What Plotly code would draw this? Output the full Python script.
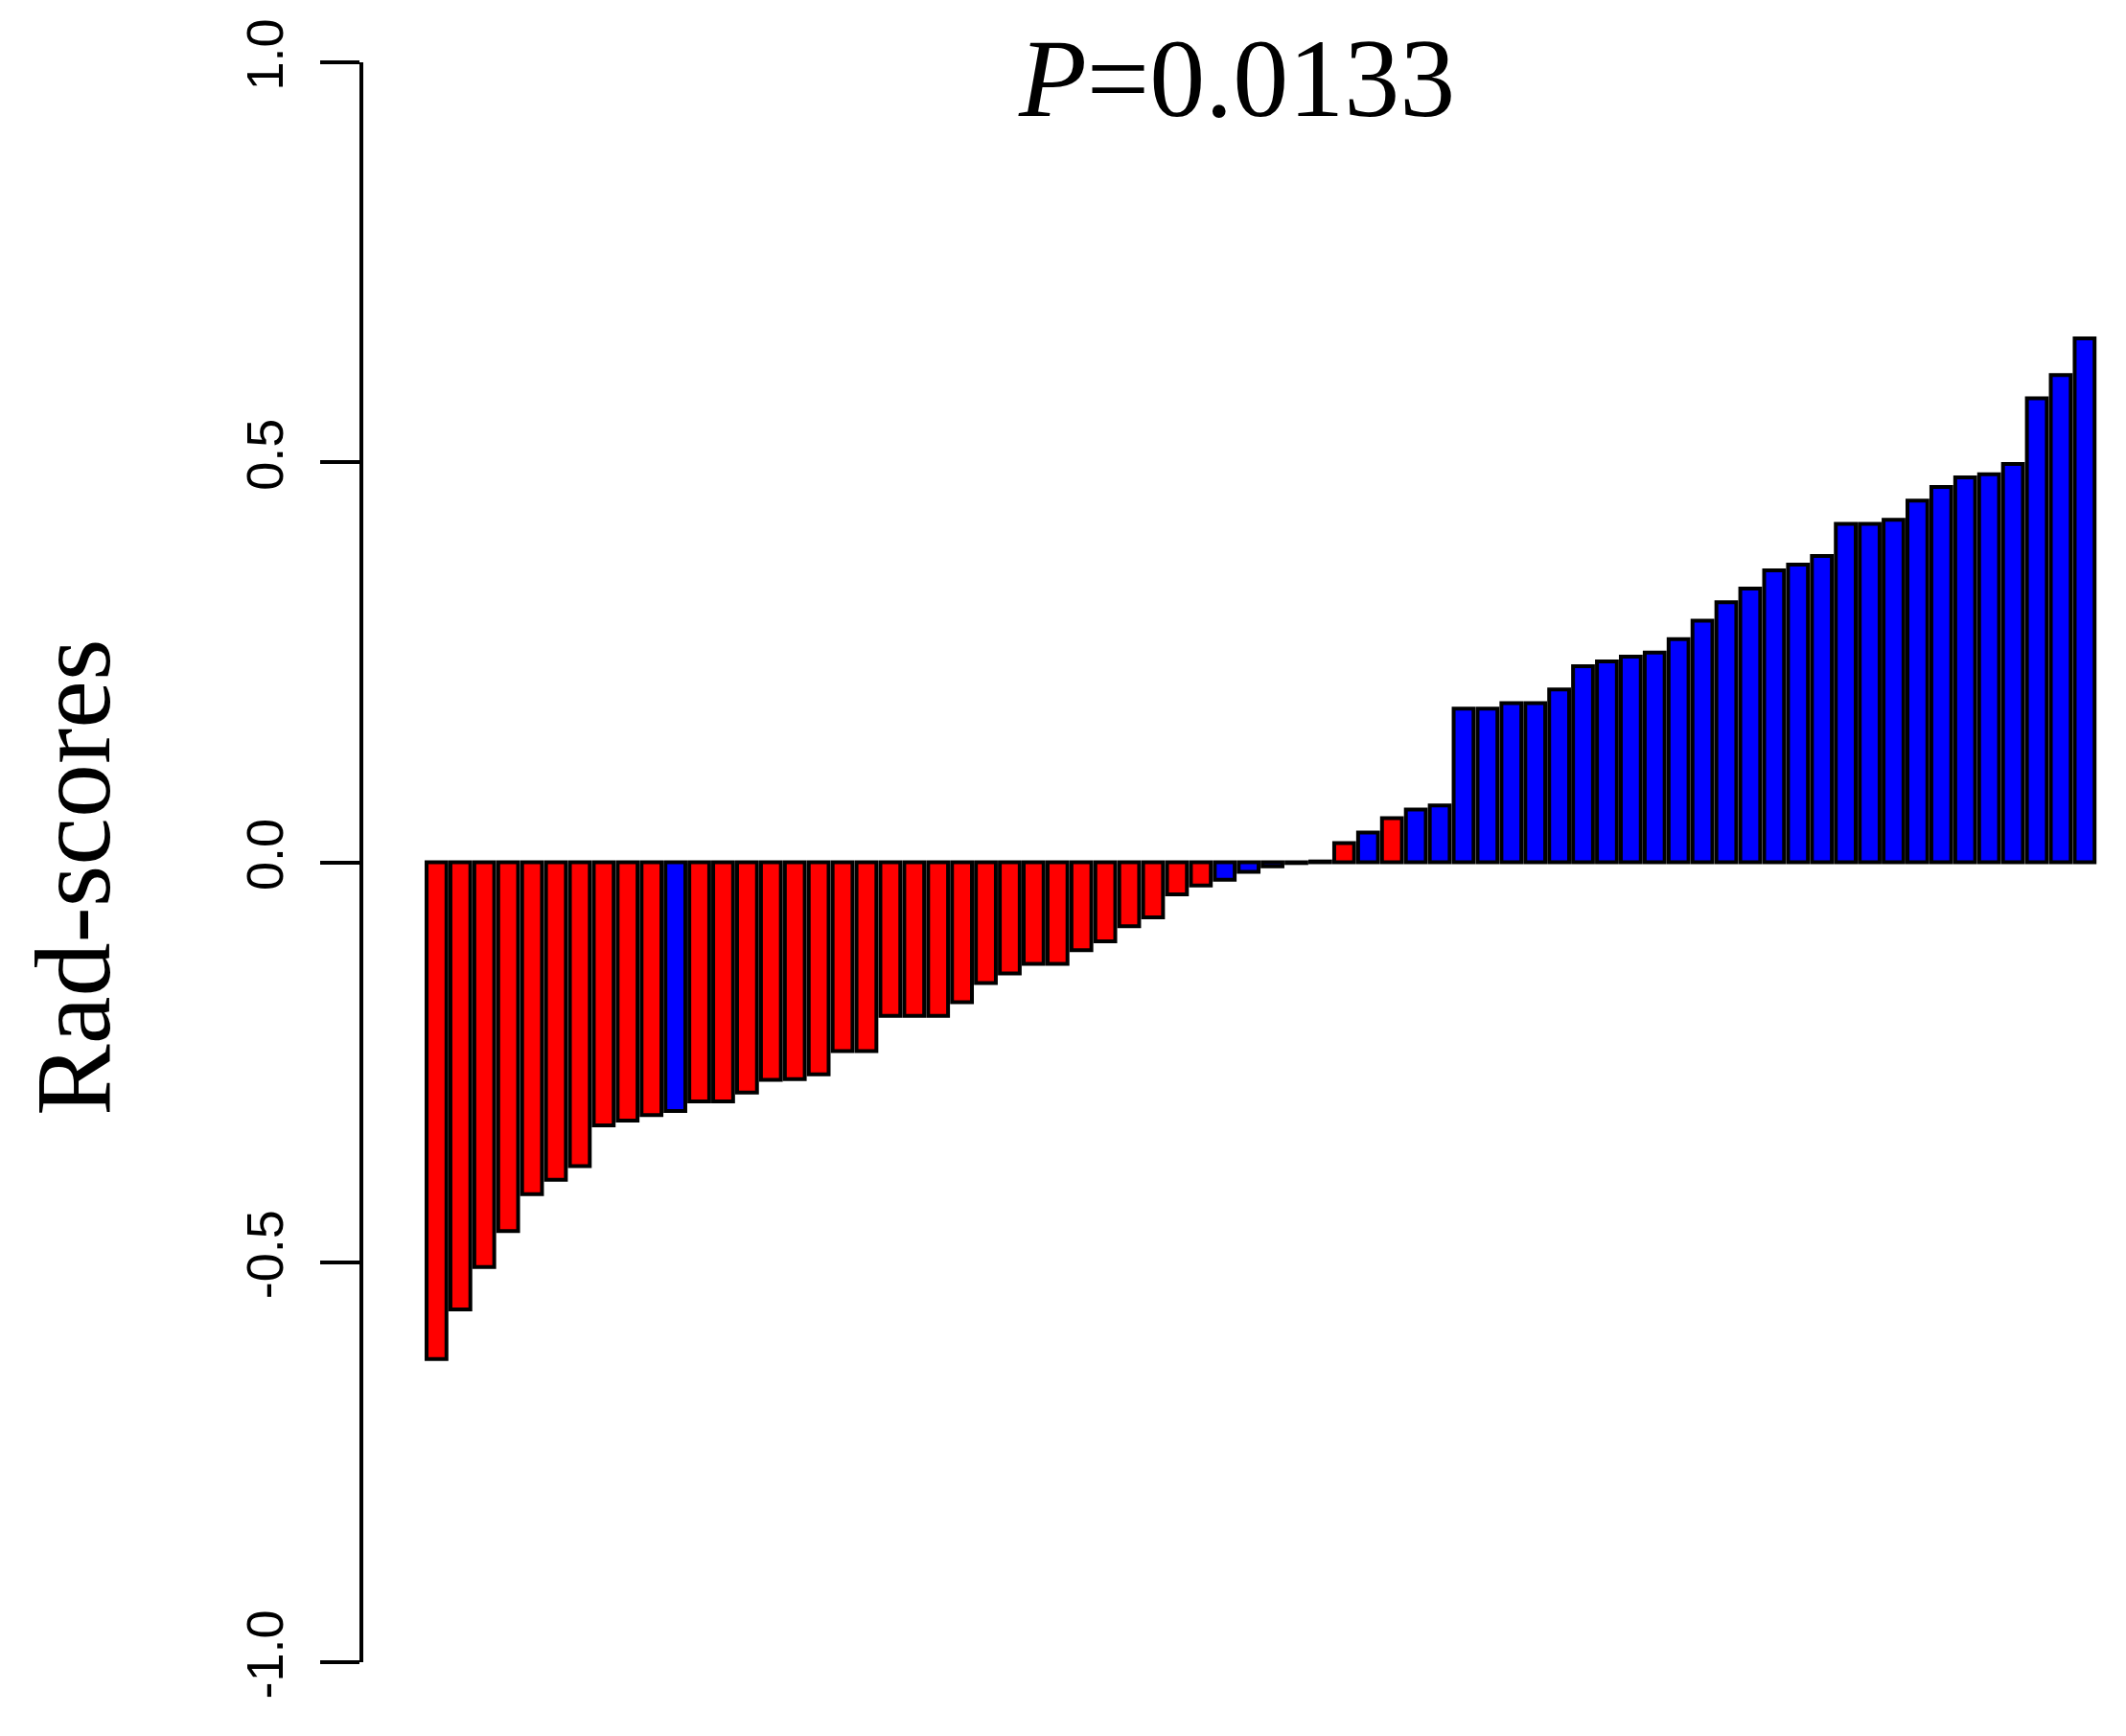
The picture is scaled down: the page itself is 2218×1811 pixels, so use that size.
import plotly.graph_objects as go

# rad-score of each patient, sorted ascending
scores = [-0.621, -0.559, -0.506, -0.461, -0.415, -0.397, -0.380, -0.329, -0.323, -0.316,
          -0.311, -0.299, -0.299, -0.288, -0.272, -0.271, -0.265, -0.236, -0.236, -0.192,
          -0.192, -0.192, -0.175, -0.151, -0.139, -0.127, -0.127, -0.110, -0.099, -0.080,
          -0.069, -0.040, -0.029, -0.022, -0.012, -0.005, -0.001, 0.001, 0.024, 0.037,
          0.055, 0.066, 0.071, 0.192, 0.192, 0.199, 0.199, 0.216, 0.245, 0.251,
          0.257, 0.262, 0.279, 0.302, 0.325, 0.342, 0.365, 0.372, 0.383, 0.423,
          0.423, 0.428, 0.452, 0.469, 0.481, 0.485, 0.498, 0.580, 0.609, 0.655]

# group of each patient: R = red, B = blue
groups = list("RRRRRRRRRR" "BRRRRRRRRR" "RRRRRRRRRR" "RRRBBBBBRB" "RBB" + "B" * 27)

y_ticks = [-1.0, -0.5, 0.0, 0.5, 1.0]
y_labels = ["-1.0", "-0.5", "0.0", "0.5", "1.0"]
p_text = "<i>P</i>=0.0133"

palette = {"R": "#FF0000", "B": "#0000FF"}
idx = list(range(1, len(scores) + 1))

fig = go.Figure(go.Bar(
    x=idx, y=scores,
    marker=dict(color=[palette[g] for g in groups],
                line=dict(color="black", width=4)),
))

# page body adds 8px, so margins are 8px smaller on left/top
fig.update_layout(
    width=2218, height=1811,
    margin=dict(l=371, r=26, t=57, b=85),
    paper_bgcolor="white", plot_bgcolor="white",
    bargap=0.1666, showlegend=False,
    xaxis=dict(range=[-2.066, 71.01], visible=False),
    yaxis=dict(range=[-1, 1], tickvals=y_ticks, ticktext=y_labels,
               showline=True, linecolor="black", linewidth=4,
               ticks="outside", ticklen=41, tickwidth=4, tickcolor="black",
               tickangle=-90, showgrid=False, zeroline=False,
               ticklabelstandoff=17,
               tickfont=dict(family="Liberation Sans", size=54, color="black")),
    annotations=[
        dict(text=p_text, xref="paper", yref="paper", x=0.5003, y=0.9898,
             xanchor="center", yanchor="middle", showarrow=False,
             font=dict(family="Liberation Serif", size=116, color="black")),
        dict(text="Rad-scores", xref="paper", yref="paper",
             x=(76 - 379) / 1821, y=1 - (915 - 65) / 1669,
             xanchor="center", yanchor="middle", textangle=-90, showarrow=False,
             font=dict(family="Liberation Serif", size=112, color="black")),
    ],
)

fig.write_html("out.html")
